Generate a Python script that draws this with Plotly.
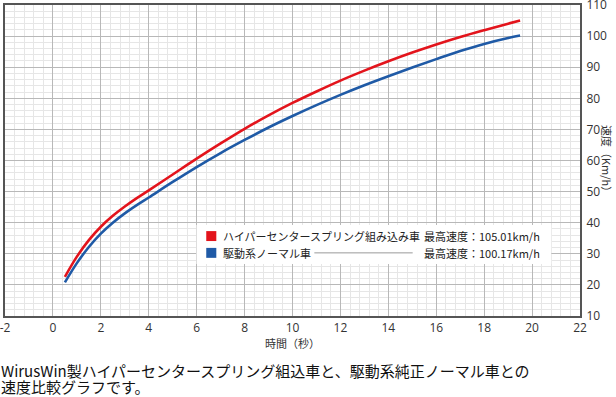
import plotly.graph_objects as go

# ---- data ----
time_s = [0.5, 1, 1.5, 2, 2.5, 3, 3.5, 4, 5, 6, 7, 8, 9, 10, 11, 12, 13, 14, 15, 16, 17, 18, 19, 19.5]
speed_hyper = [22.6, 29.1, 34.4, 38.7, 42.2, 45.2, 47.9, 50.4, 55.5, 60.6, 65.5, 70.2, 74.5, 78.5,
               82.2, 85.7, 88.9, 91.9, 94.7, 97.3, 99.7, 101.9, 104.0, 105.01]
speed_normal = [20.8, 27.0, 32.2, 36.5, 40.0, 43.0, 45.65, 48.1, 53.1, 57.9, 62.4, 66.6, 70.6, 74.3,
                77.8, 81.1, 84.2, 87.1, 89.9, 92.6, 95.2, 97.5, 99.4, 100.17]
series_names = ["ハイパーセンタースプリング組み込み車", "駆動系ノーマル車"]
max_speeds = [105.01, 100.17]
series_colors = ["#e3141c", "#1f5aa6"]
x_ticks = list(range(-2, 23, 2))
y_ticks = list(range(10, 111, 10))
x_title = "時間（秒）"
y_title = "速度（Km/h）"
caption_lines = ["WirusWin製ハイパーセンタースプリング組込車と、駆動系純正ノーマル車との",
                 "速度比較グラフです。"]

JP = "Noto Sans CJK JP"

fig = go.Figure()
for ys, name, col in zip([speed_hyper, speed_normal], series_names, series_colors):
    fig.add_trace(go.Scatter(x=time_s, y=ys, mode="lines", name=name,
                             line=dict(color=col, width=2.6, shape="spline", smoothing=1.0),
                             showlegend=False, hoverinfo="skip"))

fig.update_layout(
    width=616, height=397,
    margin=dict(l=5, r=36, t=5, b=81),
    paper_bgcolor="white", plot_bgcolor="white",
    xaxis=dict(range=[-2, 22], tickvals=x_ticks, ticktext=[str(v) for v in x_ticks],
               showgrid=True, gridcolor="#b8b8b8", gridwidth=1,
               minor=dict(dtick=0.4, showgrid=True, gridcolor="#e6e6e6", gridwidth=1),
               showline=True, linecolor="#555555", linewidth=2, mirror=True,
               zeroline=False, ticks="", ticklabelstandoff=0, automargin=False,
               ticklabeloverflow="allow",
               tickfont=dict(family="Open Sans", size=12, color="#333333")),
    yaxis=dict(range=[10, 110], tickvals=y_ticks, ticktext=[str(v) for v in y_ticks],
               side="right",
               showgrid=True, gridcolor="#b8b8b8", gridwidth=1,
               minor=dict(dtick=2, showgrid=True, gridcolor="#e6e6e6", gridwidth=1),
               showline=True, linecolor="#555555", linewidth=2, mirror=True,
               zeroline=False, ticks="", ticklabelstandoff=2, automargin=False,
               ticklabeloverflow="allow",
               tickfont=dict(family="Open Sans", size=12, color="#333333")),
)

# legend box (white panel)
fig.add_shape(type="rect", xref="paper", yref="paper", x0=0.333, x1=0.950, y0=0.167, y1=0.293,
              fillcolor="white", line=dict(width=0), layer="above")

row_y = [0.257, 0.203]
for i, (name, ms, col) in enumerate(zip(series_names, max_speeds, series_colors)):
    ry = row_y[i]
    fig.add_shape(type="rect", xref="paper", yref="paper",
                  x0=0.350, x1=0.3675, y0=ry - 0.016, y1=ry + 0.016,
                  fillcolor=col, line=dict(width=0), layer="above")
    fig.add_annotation(xref="paper", yref="paper", x=0.376, y=ry, xanchor="left", yanchor="middle",
                       text=name, showarrow=False,
                       font=dict(family=JP, size=11, color="#222222"))
    fig.add_annotation(xref="paper", yref="paper", x=0.726, y=ry, xanchor="left", yanchor="middle",
                       text=f"最高速度：{ms:.2f}km/h", showarrow=False,
                       font=dict(family=JP, size=11, color="#222222"))

# leader line for second row
fig.add_shape(type="line", xref="paper", yref="paper", x0=0.538, x1=0.709, y0=row_y[1], y1=row_y[1],
              line=dict(color="#999999", width=1), layer="above")

# axis titles
fig.add_annotation(xref="paper", yref="paper", x=0.5, y=-0.087, xanchor="center", yanchor="middle",
                   text=x_title, showarrow=False, font=dict(family=JP, size=11, color="#333333"))
fig.add_annotation(xref="paper", yref="paper", x=1.048, y=0.5, xanchor="center", yanchor="middle",
                   text=y_title, showarrow=False, textangle=90,
                   font=dict(family=JP, size=11, color="#333333"))

# caption (two lines, tight spacing)
for line_text, cy in zip(caption_lines, [-0.1768, -0.2251]):
    fig.add_annotation(xref="paper", yref="paper", x=-0.0096, y=cy, xanchor="left", yanchor="middle",
                       align="left", text=line_text, showarrow=False,
                       font=dict(family=JP, size=15, color="#111111"))

fig.write_html("out.html", config={"displayModeBar": False},
               post_script="document.body.style.margin='0';document.body.style.padding='0';")
